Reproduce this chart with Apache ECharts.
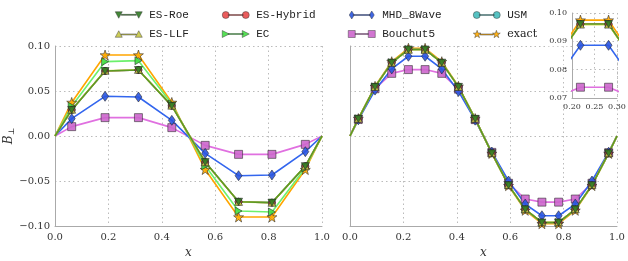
<!DOCTYPE html>
<html><head><meta charset="utf-8">
<script src="https://cdn.jsdelivr.net/npm/echarts@6/dist/echarts.min.js"></script>
<style>html,body{margin:0;padding:0;background:#fff}#c{width:628px;height:261px}</style>
</head><body><div id="c"></div>
<script>
// ---- data ----
const xLeft = [0, 0.0625, 0.1875, 0.3125, 0.4375, 0.5625, 0.6875, 0.8125, 0.9375, 1];
const exactLeft = [0, 0.0373, 0.0900, 0.0900, 0.0373, -0.0373, -0.0900, -0.0900, -0.0373, 0];
const ecLeft    = [0, 0.0330, 0.0826, 0.0837, 0.0355, -0.0330, -0.0833, -0.0844, -0.0355, 0];
const roeLeft   = [0, 0.0290, 0.0722, 0.0733, 0.0335, -0.0290, -0.0730, -0.0740, -0.0335, 0];
const llfLeft   = [0, 0.0292, 0.0725, 0.0735, 0.0337, -0.0292, -0.0732, -0.0742, -0.0337, 0];
const hybLeft   = [0, 0.0291, 0.0723, 0.0734, 0.0336, -0.0291, -0.0731, -0.0741, -0.0336, 0];
const usmLeft   = [0, 0.0290, 0.0722, 0.0733, 0.0335, -0.0290, -0.0730, -0.0740, -0.0335, 0];
const mhdLeft   = [0, 0.0193, 0.0441, 0.0433, 0.0174, -0.0193, -0.0441, -0.0433, -0.0174, 0];
const bouLeft   = [0, 0.0104, 0.0204, 0.0204, 0.0093, -0.0104, -0.0204, -0.0204, -0.0093, 0];

const xRight = [0, 0.03125, 0.09375, 0.15625, 0.21875, 0.28125, 0.34375, 0.40625, 0.46875,
  0.53125, 0.59375, 0.65625, 0.71875, 0.78125, 0.84375, 0.90625, 0.96875, 1];
const exactRight = [0, 0.0194, 0.0552, 0.0826, 0.0975, 0.0975, 0.0826, 0.0552, 0.0194,
  -0.0194, -0.0552, -0.0826, -0.0975, -0.0975, -0.0826, -0.0552, -0.0194, 0];
const roeRight = [0, 0.0191, 0.0546, 0.0815, 0.0961, 0.0961, 0.0815, 0.0546, 0.0191,
  -0.0191, -0.0546, -0.0815, -0.0961, -0.0961, -0.0815, -0.0546, -0.0191, 0];
const llfRight = [0, 0.0191, 0.0545, 0.0814, 0.0959, 0.0959, 0.0814, 0.0545, 0.0191,
  -0.0191, -0.0545, -0.0814, -0.0959, -0.0959, -0.0814, -0.0545, -0.0191, 0];
const hybRight = [0, 0.0191, 0.0546, 0.0815, 0.0961, 0.0961, 0.0815, 0.0546, 0.0191,
  -0.0191, -0.0546, -0.0815, -0.0961, -0.0961, -0.0815, -0.0546, -0.0191, 0];
const ecRight = [0, 0.0191, 0.0546, 0.0815, 0.0961, 0.0961, 0.0815, 0.0546, 0.0191,
  -0.0191, -0.0546, -0.0815, -0.0961, -0.0961, -0.0815, -0.0546, -0.0191, 0];
const usmRight = [0, 0.0191, 0.0546, 0.0815, 0.0961, 0.0961, 0.0815, 0.0546, 0.0191,
  -0.0191, -0.0546, -0.0815, -0.0961, -0.0961, -0.0815, -0.0546, -0.0191, 0];
const mhdRight = [0, 0.0180, 0.0510, 0.0745, 0.0886, 0.0886, 0.0745, 0.0495, 0.0176,
  -0.0178, -0.0500, -0.0756, -0.0886, -0.0886, -0.0756, -0.0500, -0.0180, 0];
const bouRight = [0, 0.0185, 0.0525, 0.0696, 0.0738, 0.0738, 0.0696, 0.0520, 0.0182,
  -0.0182, -0.0525, -0.0700, -0.0735, -0.0735, -0.0700, -0.0525, -0.0185, 0];

const mainXTicks = [0, 0.2, 0.4, 0.6, 0.8, 1.0];
const mainYTicks = [-0.10, -0.05, 0.00, 0.05, 0.10];
const insetXTicks = [0.20, 0.25, 0.30];
const insetYTicks = [0.07, 0.08, 0.09, 0.10];

const seriesNames = ['exact', 'USM', 'Bouchut5', 'MHD_8Wave', 'EC', 'ES-Hybrid', 'ES-LLF', 'ES-Roe'];
const leftData = {'exact': exactLeft, 'USM': usmLeft, 'Bouchut5': bouLeft, 'MHD_8Wave': mhdLeft,
  'EC': ecLeft, 'ES-Hybrid': hybLeft, 'ES-LLF': llfLeft, 'ES-Roe': roeLeft};
const rightData = {'exact': exactRight, 'USM': usmRight, 'Bouchut5': bouRight, 'MHD_8Wave': mhdRight,
  'EC': ecRight, 'ES-Hybrid': hybRight, 'ES-LLF': llfRight, 'ES-Roe': roeRight};

// ---- styles ----
const STAR = 'path://M4,0L4.94,2.71L7.8,2.76L5.52,4.49L6.35,7.24L4,5.6L1.65,7.24L2.48,4.49L0.2,2.76L3.06,2.71Z';
const STY = {
  'ES-Roe':    {line: '#5c9a24', fill: '#2f7a22', symbol: 'path://M0,0L10,0L5,9Z', size: [8, 7]},
  'ES-LLF':    {line: '#dcdc5a', fill: '#c8c846', symbol: 'triangle', size: [8, 7]},
  'ES-Hybrid': {line: '#ee5a5a', fill: '#e84a4a', symbol: 'circle', size: 7},
  'EC':        {line: '#6cf06c', fill: '#44dd44', symbol: 'path://M0,0L9,5L0,10Z', size: [7, 8]},
  'MHD_8Wave': {line: '#3366ee', fill: '#2a55e0', symbol: 'diamond', size: [7, 10]},
  'Bouchut5':  {line: '#e070e0', fill: '#cc66cc', symbol: 'rect', size: 8},
  'USM':       {line: '#55cccc', fill: '#44bbbb', symbol: 'circle', size: 7},
  'exact':     {line: '#ffa500', fill: '#ffaa00', symbol: STAR, size: 10}
};
const ICON = {
  'ES-Roe': 'path://M0,0L7,0L3.5,6.5Z M20,0L27,0L23.5,6.5Z M6,2.6L21,2.6L21,3.6L6,3.6Z',
  'ES-LLF': 'path://M0,6.5L7,6.5L3.5,0Z M20,6.5L27,6.5L23.5,0Z M6,3.2L21,3.2L21,4.2L6,4.2Z',
  'ES-Hybrid': 'path://M0,3.5A3.5,3.5 0 1,1 7,3.5A3.5,3.5 0 1,1 0,3.5Z M20,3.5A3.5,3.5 0 1,1 27,3.5A3.5,3.5 0 1,1 20,3.5Z M6,3L21,3L21,4L6,4Z',
  'EC': 'path://M0,0L7,3.5L0,7Z M20,0L27,3.5L20,7Z M6,3L21,3L21,4L6,4Z',
  'MHD_8Wave': 'path://M3.5,0L6,4L3.5,8L1,4Z M23.5,0L26,4L23.5,8L21,4Z M5,3.5L22,3.5L22,4.5L5,4.5Z',
  'Bouchut5': 'path://M0,0L7,0L7,7L0,7Z M20,0L27,0L27,7L20,7Z M7,3L20,3L20,4L7,4Z',
  'USM': 'path://M0,3.5A3.5,3.5 0 1,1 7,3.5A3.5,3.5 0 1,1 0,3.5Z M20,3.5A3.5,3.5 0 1,1 27,3.5A3.5,3.5 0 1,1 20,3.5Z M6,3L21,3L21,4L6,4Z',
  'exact': 'path://M4,0L4.94,2.71L7.8,2.76L5.52,4.49L6.35,7.24L4,5.6L1.65,7.24L2.48,4.49L0.2,2.76L3.06,2.71Z M23,0L23.94,2.71L26.8,2.76L24.52,4.49L25.35,7.24L23,5.6L20.65,7.24L21.48,4.49L19.2,2.76L22.06,2.71Z M7,3.6L20,3.6L20,4.6L7,4.6Z'
};

function pts(xs, ys) {
  return xs.map((x, i) => {
    const d = {value: [x, ys[i]]};
    if (i === 0 || i === xs.length - 1) d.symbol = 'none';
    return d;
  });
}
function mk(name, xs, ys, gi, z) {
  const s = STY[name];
  return {
    type: 'line', name, xAxisIndex: gi, yAxisIndex: gi, z: z,
    data: pts(xs, ys), symbol: s.symbol, symbolSize: s.size, showSymbol: true,
    animation: false, clip: true,
    lineStyle: {color: s.line, width: 1.6},
    itemStyle: {color: s.fill, borderColor: '#222', borderWidth: 0.6, opacity: 0.9},
    emphasis: {disabled: true}
  };
}

const series = [];
seriesNames.forEach(n => series.push(mk(n, xLeft, leftData[n], 0, 2)));
seriesNames.forEach(n => series.push(mk(n, xRight, rightData[n], 1, 2)));
seriesNames.forEach(n => series.push(mk(n, xRight, rightData[n], 2, 6)));

const serif = 'DejaVu Serif';
const dotted = {show: true, lineStyle: {color: '#bbb', width: 1, type: [1.5, 3]}};
const axLine = {show: true, onZero: false, lineStyle: {color: '#aaa', width: 1}};
const fmt2 = v => (v < -1e-9 ? '\u2212' : '') + Math.abs(v).toFixed(2);

function mainX(gi) {
  return {type: 'value', gridIndex: gi, min: mainXTicks[0], max: mainXTicks[mainXTicks.length - 1], interval: 0.2,
    axisLine: axLine, axisTick: {show: false}, splitLine: dotted,
    axisLabel: {fontFamily: serif, fontSize: 10, color: '#333', margin: 6, formatter: v => v.toFixed(1)},
    name: 'x', nameLocation: 'middle', nameGap: 20,
    nameTextStyle: {fontFamily: serif, fontStyle: 'italic', fontSize: 12, color: '#333'}};
}
function mainY(gi, labels) {
  const o = {type: 'value', gridIndex: gi, min: mainYTicks[0], max: mainYTicks[mainYTicks.length - 1], interval: 0.05,
    axisLine: axLine, axisTick: {show: false}, splitLine: dotted,
    axisLabel: {show: labels, fontFamily: serif, fontSize: 10, color: '#333', margin: 5, formatter: fmt2}};
  if (labels) {
    o.name = '{b|B}{s|\u22a5}';
    o.nameLocation = 'middle';
    o.nameGap = 38;
    o.nameRotate = 90;
    o.nameTextStyle = {rich: {
      b: {fontFamily: serif, fontStyle: 'italic', fontSize: 12, color: '#333'},
      s: {fontFamily: serif, fontSize: 8, color: '#333', verticalAlign: 'bottom', padding: [6, 0, 0, 0]}
    }};
  }
  return o;
}

function legendCol(left, names) {
  return {
    left: left, top: 4, orient: 'vertical', itemWidth: 27, itemHeight: 8, itemGap: 7,
    selectedMode: false,
    itemStyle: {borderWidth: 0.5, borderColor: '#333'},
    textStyle: {fontFamily: 'Liberation Mono', fontSize: 11, color: '#222', lineHeight: 12, padding: [0, 0, 0, 2]},
    data: names.map(n => {
      const d = {name: n, icon: ICON[n]};
      if (n === 'exact') d.textStyle = {fontFamily: serif, fontSize: 11};
      return d;
    })
  };
}

const option = {
  backgroundColor: '#fff',
  animation: false,
  legend: [
    legendCol(110, ['ES-Roe', 'ES-LLF']),
    legendCol(217, ['ES-Hybrid', 'EC']),
    legendCol(343, ['MHD_8Wave', 'Bouchut5']),
    legendCol(468, ['USM', 'exact'])
  ],
  grid: [
    {left: 55, top: 46, width: 267, height: 180, outerBoundsMode: 'none', containLabel: false},
    {left: 350, top: 46, width: 267, height: 180, outerBoundsMode: 'none', containLabel: false},
    {left: 572, top: 13, width: 45, height: 85, show: true, backgroundColor: '#fff', borderWidth: 0, z: 3,
      outerBoundsMode: 'none', containLabel: false}
  ],
  xAxis: [
    mainX(0), mainX(1),
    {type: 'value', gridIndex: 2, min: insetXTicks[0], max: insetXTicks[insetXTicks.length - 1], interval: 0.05, z: 4,
      axisLine: axLine, axisTick: {show: false}, splitLine: dotted,
      axisLabel: {fontFamily: serif, fontSize: 8, color: '#333', margin: 5, formatter: v => v.toFixed(2)}}
  ],
  yAxis: [
    mainY(0, true), mainY(1, false),
    {type: 'value', gridIndex: 2, min: insetYTicks[0], max: insetYTicks[insetYTicks.length - 1], interval: 0.01, z: 4,
      axisLine: axLine, axisTick: {show: false}, splitLine: dotted,
      axisLabel: {fontFamily: serif, fontSize: 8, color: '#333', margin: 4, formatter: v => v.toFixed(2),
        backgroundColor: '#fff', padding: [1, 1, 1, 2]}}
  ],
  series: series
};

const chart = echarts.init(document.getElementById('c'), null, {renderer: 'canvas'});
chart.setOption(option);
</script>
</body></html>
